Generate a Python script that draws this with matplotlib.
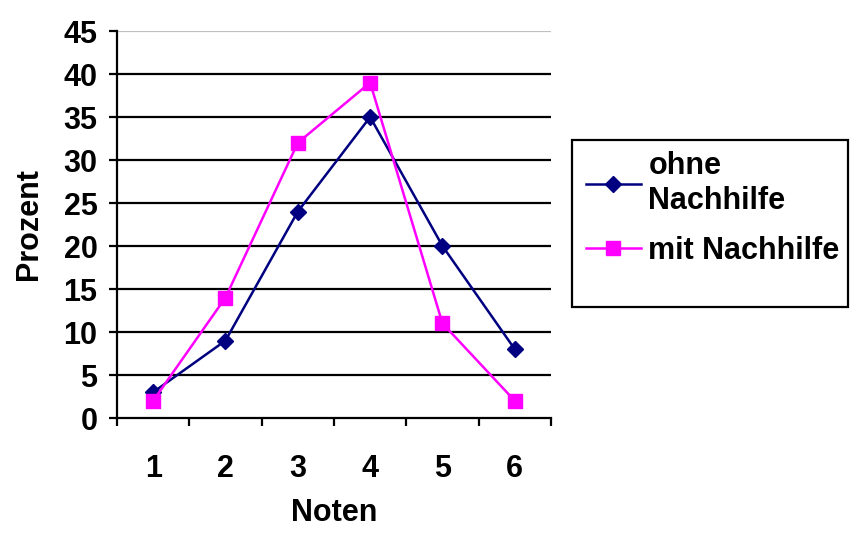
import matplotlib
matplotlib.use("Agg")
import matplotlib.pyplot as plt
from matplotlib.patches import Rectangle
from matplotlib.ticker import FixedLocator, NullFormatter

plt.rcParams["font.family"] = ["Liberation Sans", "DejaVu Sans"]
plt.rcParams["font.weight"] = "bold"

noten = [1, 2, 3, 4, 5, 6]
ohne_nachhilfe = [3, 9, 24, 35, 20, 8]
mit_nachhilfe = [2, 14, 32, 39, 11, 2]
y_ticks = list(range(0, 50, 5))

FS = 22

fig = plt.figure(figsize=(8.5, 5.34), dpi=100)
ax = fig.add_axes([0.1376, 0.2172, 0.5106, 0.7247])

# horizontal gridlines, top one light grey
for y in y_ticks[1:]:
    ax.axhline(y, color="#c0c0c0" if y == y_ticks[-1] else "black",
               lw=1.6, zorder=1)

ax.plot(noten, ohne_nachhilfe, color="#000080", lw=1.8, marker="D", ms=8,
        label="ohne\nNachhilfe", zorder=3)
ax.plot(noten, mit_nachhilfe, color="#ff00ff", lw=1.8, marker="s", ms=10,
        label="mit Nachhilfe", zorder=4)

ax.set_xlim(0.5, 6.5)
ax.set_ylim(0, 45)
ax.set_yticks(y_ticks)
ax.set_yticklabels([str(v) for v in y_ticks])

# category ticks sit between groups, labels in the middle
ax.xaxis.set_major_locator(FixedLocator([n - 0.5 for n in noten] + [6.5]))
ax.xaxis.set_major_formatter(NullFormatter())
ax.xaxis.set_minor_locator(FixedLocator(noten))
ax.set_xticklabels([str(n) for n in noten], minor=True)
ax.tick_params(axis="x", which="major", length=6, width=1.6, direction="out")
ax.tick_params(axis="x", which="minor", length=0, pad=26, labelsize=FS)
ax.tick_params(axis="y", length=6, width=1.6, direction="out", pad=8,
               labelsize=FS)

for side in ("top", "right"):
    ax.spines[side].set_visible(False)
for side in ("left", "bottom"):
    ax.spines[side].set_linewidth(1.6)

ax.set_xlabel("Noten", fontsize=FS, fontweight="bold", labelpad=10)
ax.set_ylabel("Prozent", fontsize=FS, fontweight="bold", labelpad=14)

# legend box
fig.patches.append(Rectangle((0.673, 0.425), 0.325, 0.313, transform=fig.transFigure,
                             fill=False, edgecolor="black", lw=1.6))
fig.legend(loc="upper left", bbox_to_anchor=(0.664, 0.757), frameon=False,
           prop={"size": FS, "weight": "bold"}, handlelength=1.8,
           handletextpad=0.25, labelspacing=0.65, borderpad=0.2)

fig.savefig("out.png", dpi=100)
